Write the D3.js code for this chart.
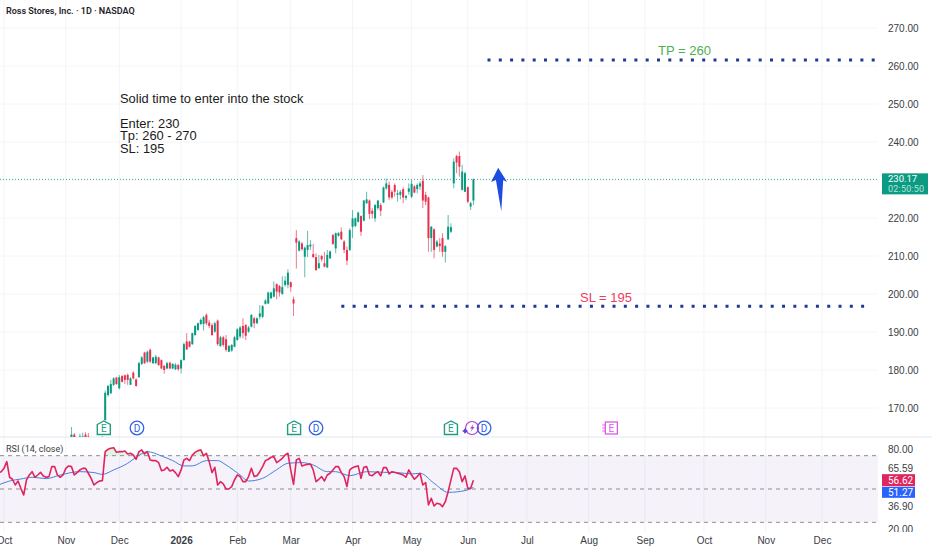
<!DOCTYPE html>
<html>
<head>
<meta charset="utf-8">
<title>Ross Stores RSI chart</title>
<script src="https://cdn.jsdelivr.net/npm/d3@7"></script>
<style>
    html, body { margin: 0; padding: 0; background: #fff; }
    svg { display: block; font-family: Roboto, "Liberation Sans", sans-serif; }
    .axis text { fill: #3a3d45; font-size: 10px; }
    .axis path, .axis line { display: none; }
    .note { font-family: "Liberation Sans", sans-serif; font-size: 12.9px; fill: #1a1a1a; }
</style>
</head>
<body>
<svg id="chart" width="932" height="550"></svg>
<script>
// Bar numbers count trading days from the first October on the axis
const firstBar = 24;
const opens = [
    161.5,163,162,160.5,161,163,162.5,160,161,159.5,161,160,
    166.8,173.4,173.9,176.1,178.0,175.2,178.4,178.6,178.7,176.1,
    179.3,177.5,178.1,181.6,184.6,182.2,185.3,181.8,181.8,183.3,
    182.6,181.1,180.4,181.9,180.4,180.2,181.3,180.4,182.6,187.5,
    187.5,186.8,189.2,190.5,192.1,192.1,194.5,192.5,191.8,190.1,
    193.0,186.3,188.6,188.1,184.8,185.1,186.1,187.9,188.8,191.6,
    191.8,190.1,191.4,193.6,192.3,194.0,194.0,197.4,197.5,198.9,
    199.3,202.6,202.1,200.0,202.4,202.4,203.1,198.6,214.7,211.4,
    213.3,209.8,211.6,212.5,210.5,209.7,206.8,210.0,208.1,207.0,
    209.4,215.5,212.0,215.3,216.4,213.8,211.6,211.6,217.7,217.9,
    219.0,220.5,219.3,223.9,224.6,221.9,219.9,222.6,223.4,224.1,
    227.8,228.7,226.9,228.7,226.1,226.1,227.6,225.3,226.9,225.6,
    228.3,227.6,228.3,229.8,226.1,225.4,214.7,217.0,212.5,213.3,
    214.7,211.1,214.4,216.4,229.1,236.3,236.3,227.4,226.9,228.1,
    223.0,224.6
];
const highs = [
    165,163.4,162.3,163.2,163.5,163.6,163.4,162,161.5,161.5,161.4,162.6,
    174.6,176.1,177.4,178.1,178.2,178.7,178.7,178.8,179.1,178.1,
    179.7,177.8,182.2,183.7,184.8,185.1,185.7,183.5,184.0,183.5,
    182.8,181.3,182.2,182.2,181.8,181.8,181.6,182.8,187.2,189.7,
    187.7,189.8,191.8,192.5,193.6,194.2,194.9,193.2,192.3,192.7,
    193.3,189.0,189.0,189.2,186.6,186.8,189.0,191.0,191.6,193.6,
    192.1,191.6,194.7,194.0,193.9,197.1,197.1,198.6,200.6,200.6,
    203.3,202.8,202.4,204.7,204.7,206.5,203.3,199.3,216.8,214.2,
    213.7,212.5,216.6,214.2,213.2,210.7,210.3,210.3,211.1,211.6,
    211.4,215.8,216.2,216.2,217.5,214.2,212.5,217.3,222.1,220.2,
    221.7,220.7,224.7,226.9,224.9,222.6,223.7,224.7,223.9,228.3,
    230.4,229.6,227.4,229.1,227.4,227.4,228.1,226.1,229.1,230.0,
    228.7,229.1,229.6,231.3,226.9,225.6,217.9,217.3,214.2,214.7,
    216.0,212.9,220.8,218.6,235.7,236.6,237.5,234.0,232.2,228.3,
    224.3,230.4
];
const lows = [
    160,161,160,160,160.5,161,160.5,159.5,159.5,159,159.6,159.8,
    166.7,173.0,173.7,175.8,176.1,174.9,176.7,176.3,176.1,176.1,
    177.5,175.6,178.0,181.3,181.6,181.8,181.8,181.6,181.6,181.1,
    180.2,179.0,180.2,180.2,180.2,180.0,179.8,179.1,182.5,185.3,
    185.9,186.6,189.0,190.4,191.8,190.4,191.8,191.0,189.0,189.8,
    186.4,186.1,186.1,184.8,184.7,184.8,186.0,187.7,188.3,188.3,
    187.9,189.8,191.2,191.0,192.1,193.3,193.6,197.2,197.4,198.6,
    199.1,198.6,199.3,199.8,201.9,201.5,200.6,194.2,206.7,211.2,
    211.4,204.4,209.7,211.6,209.5,206.1,206.6,208.5,207.0,206.8,
    209.2,212.9,210.7,215.1,214.2,210.7,207.6,211.3,214.7,217.6,
    218.8,215.3,219.1,223.7,219.7,219.9,219.0,222.1,220.5,223.9,
    227.4,224.7,224.9,225.6,224.3,224.9,223.9,224.7,226.1,225.2,
    226.5,226.5,227.4,222.6,223.4,211.1,211.1,209.4,212.3,211.1,
    209.8,208.3,214.2,216.0,227.8,231.8,230.9,227.2,226.8,223.9,
    222.1,223.4
];
const closes = [
    163,161.8,160.5,162.5,162.5,161.5,161,161.5,160,161,160,161.5,
    174.0,175.8,176.3,177.8,176.3,178.1,176.9,177.4,177.4,177.8,
    177.8,175.8,181.8,183.3,181.8,184.8,182.2,183.3,183.5,181.3,
    180.4,180.0,181.8,180.4,181.6,181.4,180.2,182.6,186.8,185.4,
    186.1,189.7,191.6,192.3,193.2,193.9,192.3,191.6,189.2,192.3,
    186.8,188.6,186.6,185.3,186.3,186.6,188.6,190.7,191.2,189.7,
    189.0,191.2,194.5,192.3,193.6,194.9,196.8,198.3,200.4,200.4,
    201.5,200.6,200.4,201.8,203.5,205.6,201.8,197.5,213.5,213.8,
    211.8,212.2,212.9,213.0,209.7,206.3,208.1,209.1,207.2,210.3,
    211.2,213.2,216.0,216.1,214.4,211.6,208.8,216.8,219.9,219.9,
    221.4,216.4,224.6,224.9,221.1,221.1,223.4,224.6,221.9,228.0,
    229.1,225.4,225.4,226.9,226.5,226.9,225.4,225.8,227.8,229.0,
    226.7,228.7,229.1,224.6,224.3,214.7,217.7,211.6,213.8,212.6,
    211.1,212.6,217.7,217.6,234.8,234.6,233.5,232.2,231.8,224.3,
    223.9,230.17
];

// RSI starts just left of the visible area
const rsiFirstBar = -2;
const rsiValues = [
    62.3,63.0,65.5,70.5,58.8,57.3,53.0,56.0,50.5,45.5,56.8,60.5,
    63.0,58.8,60.5,62.5,59.8,58.8,59.3,66.8,66.8,60.5,58.8,60.5,
    65.5,67.3,66.8,60.5,62.3,64.3,65.5,65.5,61.8,58.0,53.0,54.8,
    56.0,56.3,78.0,79.8,80.5,81.0,77.5,78.0,78.0,78.5,76.3,76.8,
    75.5,72.3,78.0,79.3,76.3,78.0,71.8,71.3,71.3,69.8,63.8,64.3,
    66.3,63.5,64.3,62.3,59.3,64.3,71.8,73.0,71.3,75.5,77.5,78.8,
    79.3,74.8,76.8,70.5,62.3,66.3,53.0,55.5,53.8,50.0,50.0,51.8,
    56.8,60.5,59.3,55.5,55.5,59.3,65.5,59.3,60.0,63.0,66.8,71.3,
    72.3,73.8,74.3,69.8,71.3,73.0,75.5,76.8,64.3,53.5,71.8,73.0,
    67.3,68.0,68.5,68.8,64.3,55.5,57.3,59.3,56.0,60.5,61.8,64.3,
    66.8,66.8,62.3,59.3,51.8,64.3,66.0,66.8,67.3,58.0,66.3,66.8,
    60.5,60.0,61.8,63.0,59.8,66.0,66.0,61.3,63.0,62.5,61.8,61.3,
    60.5,58.8,64.3,60.5,57.3,59.3,61.8,53.0,54.8,38.0,43.0,37.3,
    39.3,38.8,36.8,40.5,48.0,56.8,65.5,65.5,63.0,55.5,59.8,50.5,
    50.5,56.62
];
const maBars = [-2,2,6,10,15,20,27,32,35,39,44,47,51,56,60,64,67,72,76,79,84,87,92,97,101,106,110,115,118,123,129,135,140,145,148,153,158,164,167];
const maValues = [53,56,57.5,58.8,57.8,60.5,63,62.3,61,64.3,69.3,73.8,78,74.8,71.3,67.3,67.3,71.3,71.3,68,60.5,56,58,64.5,69.3,69.8,68,63,63,60,63,62.5,62.3,61.3,61.8,54.3,47.5,48.8,51.27];

const priceTicks = [270, 260, 250, 240, 230, 220, 210, 200, 190, 180, 170];
const rsiTicks = [80, 65.59, 36.9, 20];
const rsiBands = [75, 50, 25];
const monthBars = [0, 22, 41, 63, 83, 102, 124, 145, 165, 186, 208, 228, 249, 271, 291];
const monthLabels = ['Oct', 'Nov', 'Dec', '2026', 'Feb', 'Mar', 'Apr', 'May', 'Jun', 'Jul', 'Aug', 'Sep', 'Oct', 'Nov', 'Dec'];

const lastPrice = 230.17;
const rsiLast = 56.62;
const maLast = 51.27;
const tpLevel = 261.6;
const slLevel = 196.8;
const tpStart = 172;
const slStart = 120;
const arrowBars = [175.8, 179, 177.6, 176.9, 175, 173.3];
const arrowPrices = [233.2, 229.5, 230, 221.8, 230, 229.5];
const earningsBars = [35.5, 103.2, 159];
const dividendBars = [47.3, 111, 170.8];
const futureEarningsBar = 215.7;
const aiBar = 166.5;

const plotRight = 878;
const priceBottom = 437;

const svg = d3.select('#chart');
const x = d3.scaleLinear().domain([0, 291]).range([4, 822]);
const y = d3.scaleLinear().domain([170, 270]).range([408, 28]);
const rsiY = d3.scaleLinear().domain([80, 20]).range([449, 529]);

const defs = svg.append('defs');
defs.append('clipPath').attr('id', 'price-clip').append('rect')
    .attr('x', 0).attr('y', 0).attr('width', plotRight).attr('height', priceBottom);
defs.append('clipPath').attr('id', 'rsi-clip').append('rect')
    .attr('x', 0).attr('y', priceBottom + 1).attr('width', plotRight).attr('height', 95);
defs.append('clipPath').attr('id', 'rsi-axis-clip').append('rect')
    .attr('x', 0).attr('y', priceBottom + 1).attr('width', 60).attr('height', 94);

// Grid
svg.append('g').selectAll('line').data(monthBars).enter().append('line')
    .attr('x1', (d) => x(d)).attr('x2', (d) => x(d))
    .attr('y1', 0).attr('y2', 533)
    .attr('stroke', '#f3f4f6');
svg.append('g').selectAll('line').data(priceTicks).enter().append('line')
    .attr('x1', 0).attr('x2', plotRight)
    .attr('y1', (d) => y(d)).attr('y2', (d) => y(d))
    .attr('stroke', '#f5f6f8');
svg.append('line')
    .attr('x1', 0).attr('x2', 932)
    .attr('y1', priceBottom).attr('y2', priceBottom)
    .attr('stroke', '#e4e6ec');

// Last price line sits under the candles
svg.append('line')
    .attr('x1', 0).attr('x2', plotRight)
    .attr('y1', y(lastPrice)).attr('y2', y(lastPrice))
    .attr('stroke', '#2fae98')
    .attr('stroke-width', 1)
    .attr('stroke-dasharray', '1 2');

// Candles
const candles = svg.append('g').attr('clip-path', 'url(#price-clip)')
    .selectAll('g').data(opens).enter().append('g');
const candleColor = (i) => (closes[i] >= opens[i] ? '#089981' : '#e8304f');
candles.append('line')
    .attr('x1', (d, i) => x(firstBar + i)).attr('x2', (d, i) => x(firstBar + i))
    .attr('y1', (d, i) => y(highs[i])).attr('y2', (d, i) => y(lows[i]))
    .attr('stroke', (d, i) => candleColor(i))
    .attr('stroke-opacity', 0.65);
candles.append('rect')
    .attr('x', (d, i) => x(firstBar + i) - 1)
    .attr('width', 2)
    .attr('y', (d, i) => y(Math.max(opens[i], closes[i])))
    .attr('height', (d, i) => Math.max(1, Math.abs(y(opens[i]) - y(closes[i]))))
    .attr('fill', (d, i) => candleColor(i));

// Target and stop levels
svg.append('line')
    .attr('x1', x(tpStart)).attr('x2', plotRight - 3)
    .attr('y1', y(tpLevel)).attr('y2', y(tpLevel))
    .attr('stroke', '#1c3a94').attr('stroke-width', 3).attr('stroke-dasharray', '3 8.3');
svg.append('line')
    .attr('x1', x(slStart)).attr('x2', plotRight - 12)
    .attr('y1', y(slLevel)).attr('y2', y(slLevel))
    .attr('stroke', '#1c3a94').attr('stroke-width', 3).attr('stroke-dasharray', '3 8.3');
svg.append('text').attr('x', 658).attr('y', 55)
    .attr('font-family', '"Liberation Sans", sans-serif').attr('font-size', 13).attr('fill', '#4caf50')
    .text('TP = 260');
svg.append('text').attr('x', 580).attr('y', 302)
    .attr('font-family', '"Liberation Sans", sans-serif').attr('font-size', 13).attr('fill', '#ef3b5d')
    .text('SL = 195');

// Blue arrow
svg.append('path')
    .attr('d', d3.line()(arrowBars.map((d, i) => [x(d), y(arrowPrices[i])])) + 'Z')
    .attr('fill', '#1a4de0');

// Notes
const notes = ['Solid time to enter into the stock', 'Enter: 230', 'Tp: 260 - 270', 'SL: 195'];
const noteRows = [103, 128, 140, 153];
svg.selectAll('.note').data(notes).enter().append('text')
    .attr('class', 'note')
    .attr('x', 120)
    .attr('y', (d, i) => noteRows[i])
    .text((d) => d);

svg.append('text').attr('x', 6).attr('y', 14)
    .attr('font-size', 9).attr('font-weight', 600).attr('fill', '#1f2229')
    .text('Ross Stores, Inc. · 1D · NASDAQ');

// Event badges
const house = (g, color) => {
    g.append('path')
        .attr('d', 'M-6.5,-3.5 L0,-7 L6.5,-3.5 L6.5,6.5 L-6.5,6.5 Z')
        .attr('fill', '#fff').attr('stroke', color).attr('stroke-width', 1.4);
    g.append('text').attr('text-anchor', 'middle').attr('y', 4)
        .attr('font-size', 10).attr('fill', color).text('E');
};
earningsBars.forEach((bar) => {
    house(svg.append('g').attr('transform', `translate(${x(bar)},428)`), '#1f9d83');
});
dividendBars.forEach((bar) => {
    const g = svg.append('g').attr('transform', `translate(${x(bar)},428)`);
    g.append('circle').attr('r', 6.8).attr('fill', '#fff').attr('stroke', '#2f62e6').attr('stroke-width', 1.3);
    g.append('text').attr('text-anchor', 'middle').attr('y', 3.5)
        .attr('font-size', 10).attr('fill', '#2f62e6').text('D');
});
const aiBadge = svg.append('g').attr('transform', `translate(${x(aiBar)},428)`);
aiBadge.append('circle').attr('r', 6.5).attr('fill', 'none').attr('stroke', '#b13fc9').attr('stroke-width', 1.2);
aiBadge.append('path').attr('d', 'M1.5,-4 L-2,0.5 L0,0.5 L-1.5,4 L2.5,-1 L0.5,-1 Z').attr('fill', '#b13fc9');
aiBadge.append('path').attr('d', 'M-7,0 L-5.8,2 L-4,3 L-5.8,4 L-7,6 L-8.2,4 L-10,3 L-8.2,2 Z').attr('fill', '#5b3fd9');
const futureBadge = svg.append('g').attr('transform', `translate(${x(futureEarningsBar)},428)`);
futureBadge.append('rect').attr('x', -5).attr('y', -6).attr('width', 12).attr('height', 12)
    .attr('fill', '#fff').attr('stroke', '#dd5be8').attr('stroke-width', 1.3);
futureBadge.append('path').attr('d', 'M-8,-3 H-5 M-8,0 H-5 M-8,3 H-5').attr('stroke', '#dd5be8').attr('stroke-width', 1);
futureBadge.append('text').attr('text-anchor', 'middle').attr('x', 1).attr('y', 3.5)
    .attr('font-size', 10).attr('fill', '#dd5be8').text('E');

// RSI pane
const rsiPane = svg.append('g').attr('clip-path', 'url(#rsi-clip)');
rsiPane.append('rect')
    .attr('x', 0).attr('width', plotRight)
    .attr('y', rsiY(rsiBands[0]))
    .attr('height', rsiY(rsiBands[2]) - rsiY(rsiBands[0]))
    .attr('fill', '#7e57c2').attr('fill-opacity', 0.08);
rsiPane.append('path')
    .datum(rsiValues)
    .attr('d', d3.area()
        .x((d, i) => x(rsiFirstBar + i))
        .y0(rsiY(rsiBands[0]))
        .y1((d) => rsiY(Math.max(d, rsiBands[0]))))
    .attr('fill', '#4caf50').attr('fill-opacity', 0.16);
rsiPane.selectAll('.band').data(rsiBands).enter().append('line')
    .attr('class', 'band')
    .attr('x1', 0).attr('x2', plotRight)
    .attr('y1', (d) => rsiY(d)).attr('y2', (d) => rsiY(d))
    .attr('stroke', '#8c8e94').attr('stroke-dasharray', '4 4');
rsiPane.append('path')
    .attr('d', d3.line().curve(d3.curveMonotoneX)(maBars.map((d, i) => [x(d), rsiY(maValues[i])])))
    .attr('fill', 'none').attr('stroke', '#4a7fe0').attr('stroke-width', 1);
rsiPane.append('path')
    .datum(rsiValues)
    .attr('d', d3.line().x((d, i) => x(rsiFirstBar + i)).y((d) => rsiY(d)))
    .attr('fill', 'none').attr('stroke', '#e0245e').attr('stroke-width', 1.6).attr('stroke-linejoin', 'round');
svg.append('text').attr('x', 6).attr('y', 452)
    .attr('font-size', 9).attr('fill', '#3a3d45').text('RSI (14, close)');

// Axes
svg.append('g').attr('class', 'axis')
    .attr('transform', 'translate(883,0)')
    .call(d3.axisRight(y).tickValues(priceTicks).tickSize(0).tickPadding(5).tickFormat(d3.format('.2f')));
svg.append('g').attr('class', 'axis')
    .attr('transform', 'translate(883,0)')
    .attr('clip-path', 'url(#rsi-axis-clip)')
    .call(d3.axisRight(rsiY).tickValues(rsiTicks).tickSize(0).tickPadding(5).tickFormat(d3.format('.2f')));
const timeAxis = svg.append('g').attr('class', 'axis')
    .attr('transform', 'translate(0,533)')
    .call(d3.axisBottom(x).tickValues(monthBars).tickSize(0).tickPadding(4)
        .tickFormat((d, i) => monthLabels[i]));
timeAxis.selectAll('text')
    .attr('font-weight', (d, i) => (monthLabels[i] === '2026' ? 700 : null));

// Price tags
svg.append('rect').attr('x', 882).attr('y', y(lastPrice) - 6).attr('width', 46).attr('height', 21).attr('fill', '#0b9b82');
svg.append('text').attr('x', 888).attr('y', y(lastPrice) + 2.5).attr('font-size', 9.5).attr('fill', '#fff').text(d3.format('.2f')(lastPrice));
svg.append('text').attr('x', 888).attr('y', y(lastPrice) + 12.5).attr('font-size', 9).attr('letter-spacing', 0.2).attr('fill', '#b5e3da').text('02:50:50');
svg.append('rect').attr('x', 882).attr('y', rsiY(rsiLast) - 6).attr('width', 33).attr('height', 12).attr('fill', '#e0245e');
svg.append('text').attr('x', 888).attr('y', rsiY(rsiLast) + 3.5).attr('font-size', 10).attr('fill', '#fff').text(d3.format('.2f')(rsiLast));
svg.append('rect').attr('x', 882).attr('y', rsiY(maLast) - 0.5).attr('width', 33).attr('height', 11).attr('fill', '#2962ff');
svg.append('text').attr('x', 888).attr('y', rsiY(maLast) + 8.5).attr('font-size', 10).attr('fill', '#fff').text(d3.format('.2f')(maLast));
</script>
</body>
</html>
